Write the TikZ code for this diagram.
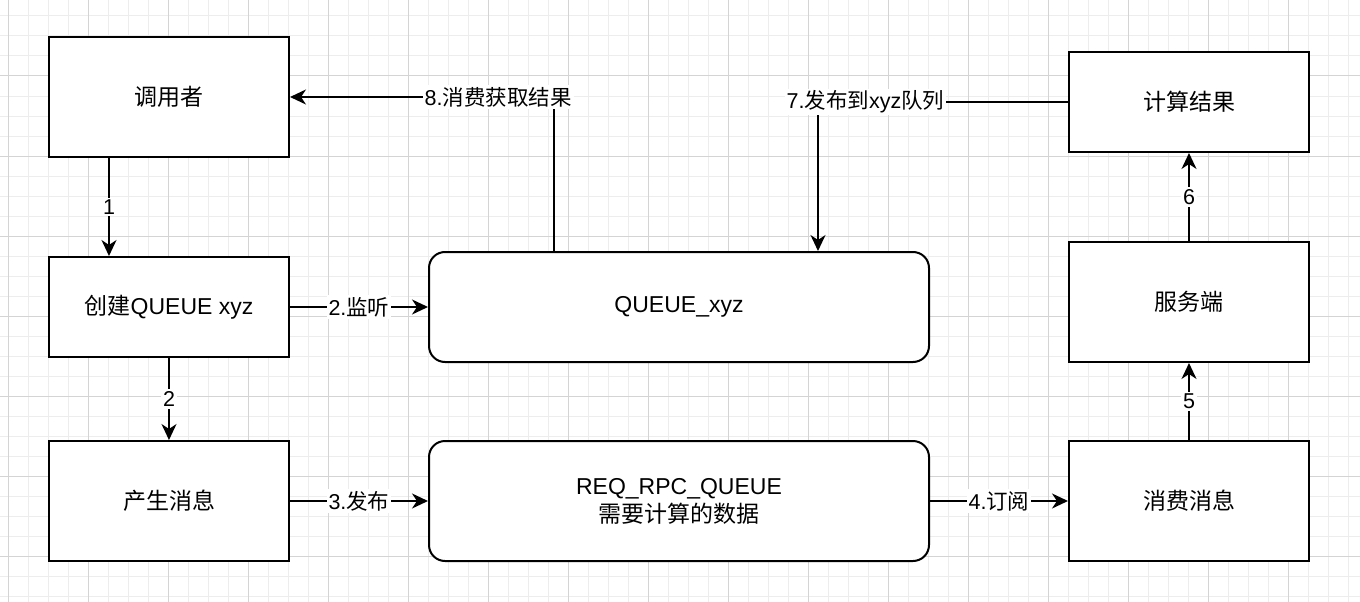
\documentclass[tikz,border=0pt]{standalone}
\usepackage{fontspec}
\setmainfont{Liberation Sans}
\newfontfamily\cjk{Noto Sans CJK SC}
\usetikzlibrary{arrows.meta}
\begin{document}
\begin{tikzpicture}[x=1pt,y=-1pt,
  gridminor/.style={draw=black!7,line width=1pt},
  gridmajor/.style={draw=black!17,line width=1pt},
  box/.style={draw=black,line width=2pt,fill=white,inner sep=0pt,minimum width=240pt,
    font=\fontsize{23}{28}\selectfont,align=center},
  rbox/.style={box,rounded corners=16pt,minimum width=500pt},
  arr/.style={draw=black,line width=2pt,-{Stealth[length=16pt,width=15pt,inset=5pt]}},
  lab/.style={fill=white,inner sep=2pt,font=\fontsize{21.5}{25}\selectfont}]
\useasboundingbox (0,0) rectangle (1360,602);
\fill[white] (0,0) rectangle (1360,602);
\foreach \x in {8,28,...,1360} \draw[gridminor] (\x,0) -- (\x,602);
\foreach \y in {16,36,...,602} \draw[gridminor] (0,\y) -- (1360,\y);
\foreach \x in {8,88,...,1360} \draw[gridmajor] (\x,0) -- (\x,602);
\foreach \y in {76,156,...,602} \draw[gridmajor] (0,\y) -- (1360,\y);

\node[box,minimum height=120pt] (caller) at (169,97) {{\cjk 调用者}};
\node[box,minimum height=100pt] (create) at (169,307) {{\cjk 创建}QUEUE xyz};
\node[box,minimum height=120pt] (produce) at (169,501) {{\cjk 产生消息}};
\node[rbox,minimum height=110pt] (q1) at (679,307) {QUEUE\_xyz};
\node[rbox,minimum height=120pt] (q2) at (679,501) {REQ\_RPC\_QUEUE\\{\cjk 需要计算的数据}};
\node[box,minimum height=100pt] (calc) at (1189,102) {{\cjk 计算结果}};
\node[box,minimum height=120pt] (server) at (1189,302) {{\cjk 服务端}};
\node[box,minimum height=120pt] (consume) at (1189,501) {{\cjk 消费消息}};

\draw[arr] ([xshift=-60pt]caller.south) -- node[lab] {1} ([xshift=-60pt]create.north);
\draw[arr] (create.south) -- node[lab] {2} (produce.north);
\draw[arr] (create.east) -- node[lab] {2.{\cjk 监听}} (q1.west);
\draw[arr] (produce.east) -- node[lab] {3.{\cjk 发布}} (q2.west);
\draw[arr] (q2.east) -- node[lab] {4.{\cjk 订阅}} (consume.west);
\draw[arr] (consume.north) -- node[lab] {5} (server.south);
\draw[arr] (server.north) -- node[lab] {6} (calc.south);
\draw[arr] ([xshift=-125pt]q1.north) |- node[lab,pos=0.606] {8.{\cjk 消费获取结果}} (caller.east);
\draw[arr] (calc.west) -| node[lab,pos=0.405] {7.{\cjk 发布到}xyz{\cjk 队列}} ([xshift=139pt]q1.north);
\end{tikzpicture}
\end{document}
